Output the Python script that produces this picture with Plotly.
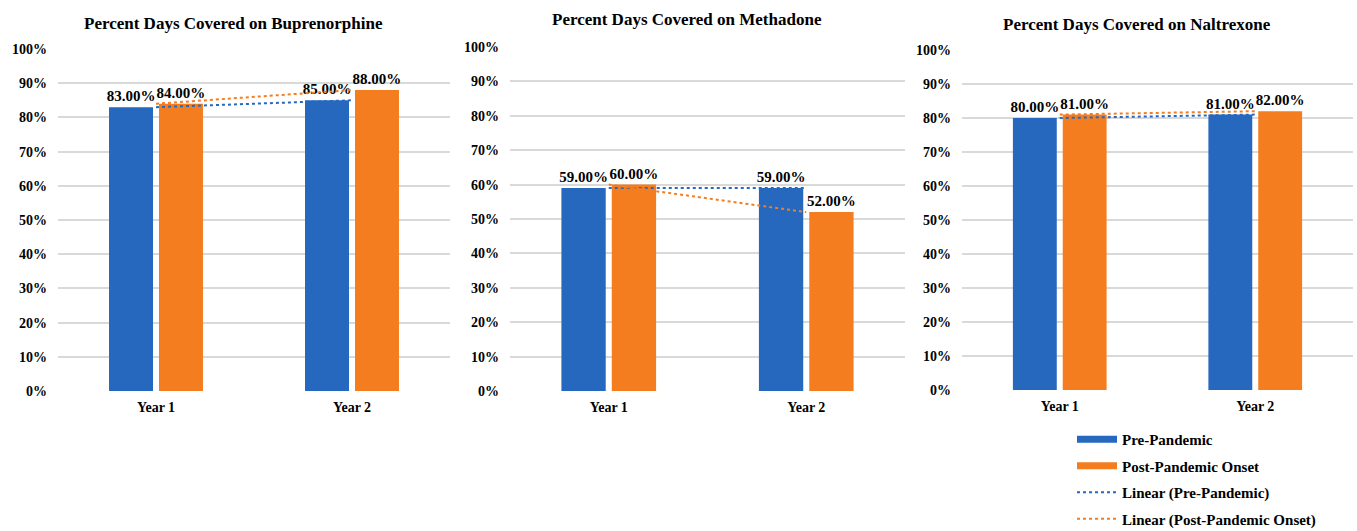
import plotly.graph_objects as go

# Chart data (percent of days covered)
years = ["Year 1", "Year 2"]
drugs = ["Buprenorphine", "Methadone", "Naltrexone"]
pre_pandemic = {"Buprenorphine": [83, 85], "Methadone": [59, 59], "Naltrexone": [80, 81]}
post_pandemic = {"Buprenorphine": [84, 88], "Methadone": [60, 52], "Naltrexone": [81, 82]}
y_ticks = list(range(0, 101, 10))

BLUE = "#2568BE"
ORANGE = "#F47D20"
FONT = "Liberation Serif"

W, H = 1357, 531
# panel pixel boxes: (left, right, top, bottom)
boxes = [(58, 450, 49, 391), (510, 905, 47, 391), (962, 1353, 50, 390)]
title_pos = [(233, 23), (687, 20), (1137, 24)]

fig = go.Figure()

for i, drug in enumerate(drugs):
    ax = "" if i == 0 else str(i + 1)
    xr, yr = "x" + ax, "y" + ax
    for series, color, grp in ((pre_pandemic, BLUE, "a"), (post_pandemic, ORANGE, "b")):
        fig.add_trace(go.Bar(
            x=years, y=series[drug], marker_color=color, marker_line_width=0,
            texttemplate="<b>%{y:.2f}%</b>", textposition="outside", cliponaxis=False,
            constraintext="none",
            textfont=dict(family=FONT, size=15, color="black"),
            xaxis=xr, yaxis=yr, showlegend=False, offsetgroup=grp))
    # linear trendlines through each series
    for series, color in ((pre_pandemic, BLUE), (post_pandemic, ORANGE)):
        fig.add_trace(go.Scatter(
            x=years, y=series[drug], mode="lines",
            line=dict(color=color, width=2, dash="dot"),
            xaxis=xr, yaxis=yr, showlegend=False, hoverinfo="skip"))

    l, r, t, b = boxes[i]
    fig.layout["xaxis" + ax] = dict(
        domain=[l / W, r / W], anchor=yr, type="category",
        tickvals=years, ticktext=["<b>%s</b>" % y for y in years],
        showgrid=False, showline=False, ticks="", ticklabelstandoff=6,
        tickfont=dict(family=FONT, size=14, color="black"))
    fig.layout["yaxis" + ax] = dict(
        domain=[1 - b / H, 1 - t / H], anchor=xr, range=[0, 100],
        tickvals=y_ticks, ticktext=["<b>%d%%</b>" % v for v in y_ticks],
        showline=False, zeroline=False,
        gridcolor="#D9D9D9", gridwidth=1.5, ticklabelstandoff=10,
        tickfont=dict(family=FONT, size=14, color="black"))
    tx, ty = title_pos[i]
    fig.add_annotation(
        x=tx / W, y=1 - ty / H, xref="paper", yref="paper", showarrow=False,
        xanchor="center", yanchor="middle",
        text="<b>Percent Days Covered on %s</b>" % drug,
        font=dict(family=FONT, size=17, color="black"))

# legend entries
legend_items = [
    ("Pre-Pandemic", BLUE, 7, "solid"),
    ("Post-Pandemic Onset", ORANGE, 7, "solid"),
    ("Linear (Pre-Pandemic)", BLUE, 2, "dot"),
    ("Linear (Post-Pandemic Onset)", ORANGE, 2, "dot"),
]
for k, (name, color, width, dash) in enumerate(legend_items):
    fig.add_trace(go.Scatter(
        x=[None], y=[None], mode="lines", name="<b>%s</b>" % name,
        line=dict(color=color, width=width, dash=dash),
        legendgroup="g%d" % k, showlegend=True))

fig.update_layout(
    width=W, height=H, barmode="group", bargap=0.49, bargroupgap=0.12,
    margin=dict(l=0, r=0, t=0, b=0, autoexpand=False),
    plot_bgcolor="white", paper_bgcolor="white",
    font=dict(family=FONT, color="black"),
    legend=dict(x=1072 / W, y=1 - 423 / H, xanchor="left", yanchor="top",
                font=dict(family=FONT, size=15, color="black"),
                itemwidth=40, tracegroupgap=4, bgcolor="rgba(0,0,0,0)"),
)

fig.write_html("out.html")
